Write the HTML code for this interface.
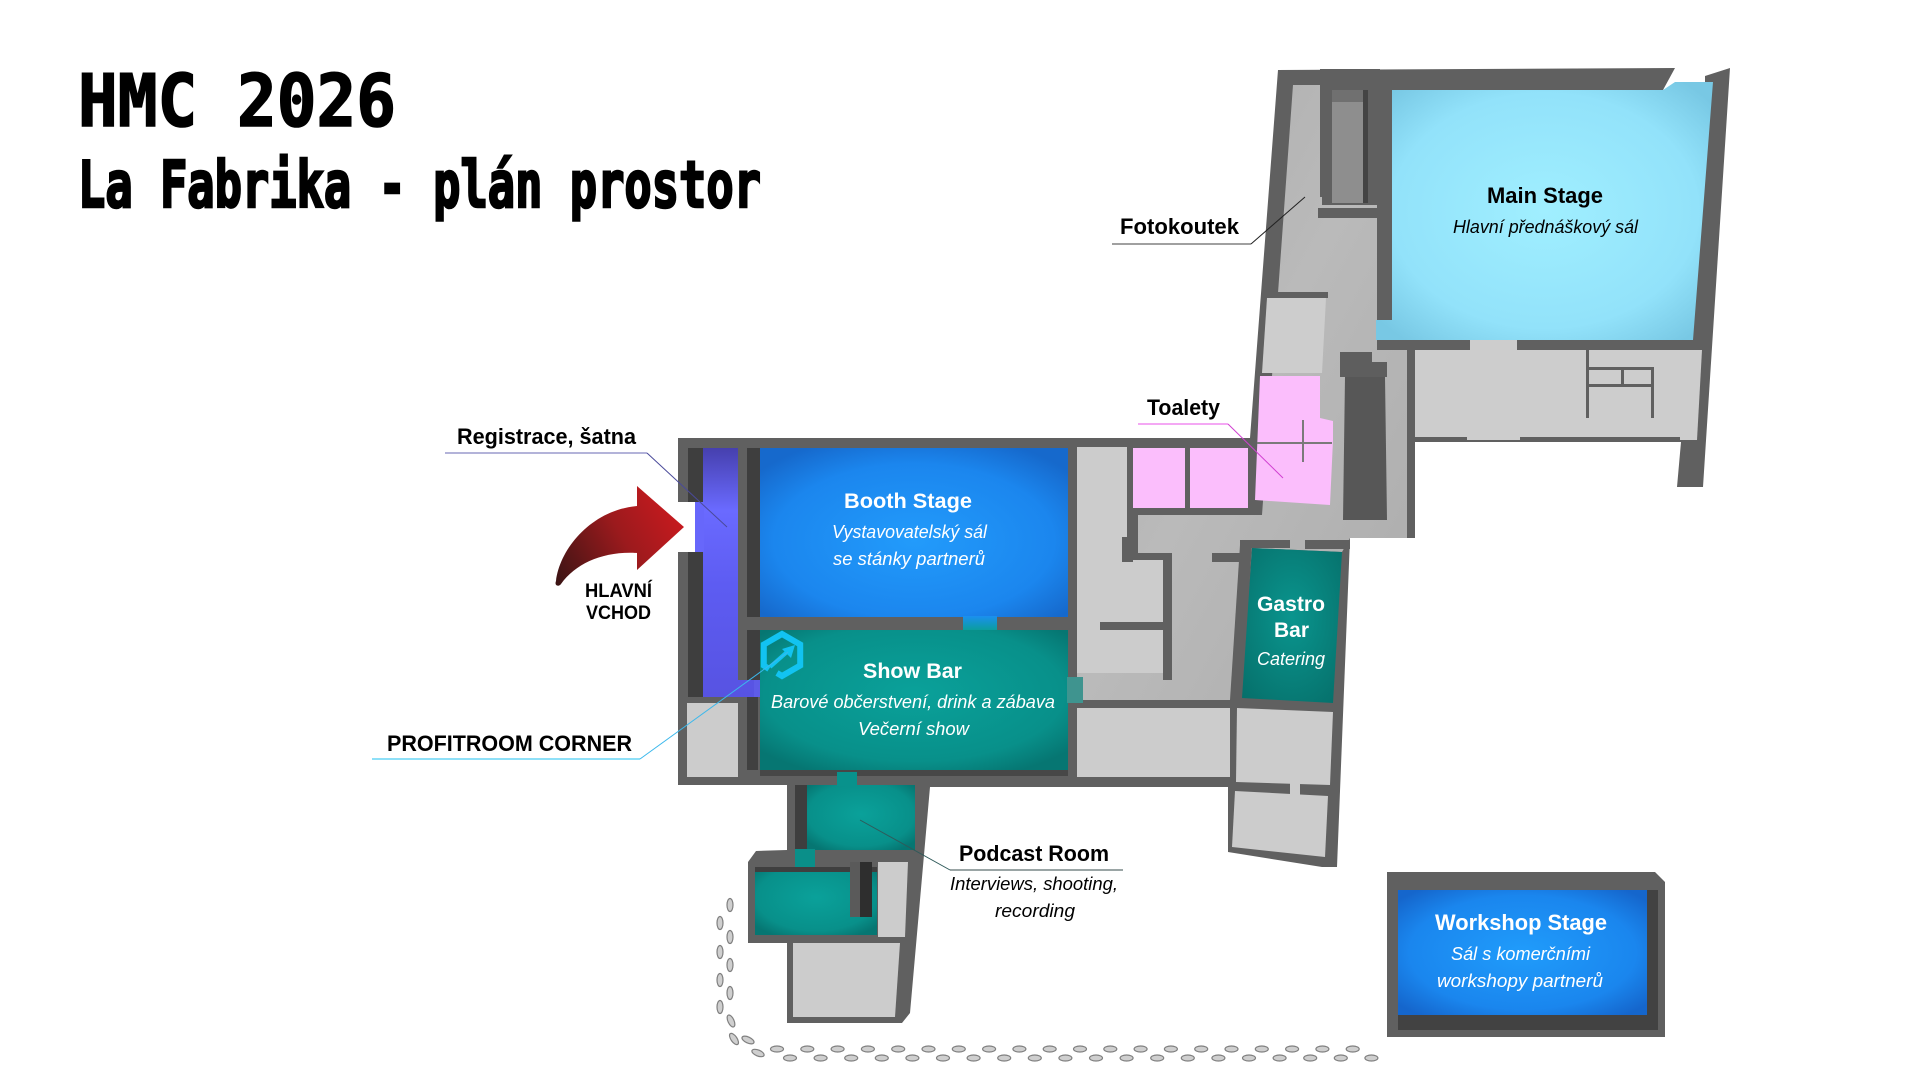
<!DOCTYPE html>
<html><head><meta charset="utf-8">
<style>
html,body{margin:0;padding:0;background:#fff;width:1920px;height:1080px;overflow:hidden}
svg{display:block}
.t{font-family:"Liberation Sans",Arial,sans-serif}
.b{font-weight:bold}
.i{font-style:italic}
.m{font-family:"DejaVu Sans Mono","Liberation Mono",monospace;font-weight:bold}
</style></head><body>
<svg width="1920" height="1080" viewBox="0 0 1920 1080" xmlns="http://www.w3.org/2000/svg">
<defs>
  <radialGradient id="gBooth" cx="50%" cy="55%" r="65%">
    <stop offset="0" stop-color="#229bfb"/><stop offset="0.7" stop-color="#1b86ee"/><stop offset="1" stop-color="#1669cc"/>
  </radialGradient>
  <radialGradient id="gTeal" cx="50%" cy="45%" r="65%">
    <stop offset="0" stop-color="#0aa19a"/><stop offset="0.75" stop-color="#08908a"/><stop offset="1" stop-color="#067672"/>
  </radialGradient>
  <radialGradient id="gGastro" cx="50%" cy="45%" r="70%">
    <stop offset="0" stop-color="#0a958e"/><stop offset="1" stop-color="#06706b"/>
  </radialGradient>
  <radialGradient id="gMain" cx="50%" cy="50%" r="65%">
    <stop offset="0" stop-color="#a0efff"/><stop offset="0.7" stop-color="#92e2fa"/><stop offset="1" stop-color="#78c8e4"/>
  </radialGradient>
  <radialGradient id="gWork" cx="50%" cy="50%" r="65%">
    <stop offset="0" stop-color="#209cfb"/><stop offset="0.7" stop-color="#1a86ee"/><stop offset="1" stop-color="#1566cc"/>
  </radialGradient>
  <linearGradient id="gPurple" x1="0" y1="0" x2="0" y2="1">
    <stop offset="0" stop-color="#4640ae"/><stop offset="0.25" stop-color="#6a6aff"/><stop offset="0.55" stop-color="#5d5cf2"/><stop offset="1" stop-color="#5753e2"/>
  </linearGradient>
  <linearGradient id="gFloor" x1="0" y1="0" x2="1" y2="1">
    <stop offset="0" stop-color="#a9a9a9"/><stop offset="0.5" stop-color="#bababa"/><stop offset="1" stop-color="#acacac"/>
  </linearGradient>
  <linearGradient id="gGap" x1="0" y1="0" x2="0" y2="1">
    <stop offset="0" stop-color="#1b8ff0"/><stop offset="1" stop-color="#0a9e97"/>
  </linearGradient>
  <linearGradient id="gArrow" gradientUnits="userSpaceOnUse" x1="556" y1="584" x2="684" y2="510">
    <stop offset="0" stop-color="#3a1414"/><stop offset="0.55" stop-color="#9c1a1d"/><stop offset="1" stop-color="#cc1a1f"/>
  </linearGradient>
</defs>

<!-- TITLE -->
<text class="m" x="78" y="126" font-size="72" textLength="318" lengthAdjust="spacingAndGlyphs" fill="#000" stroke="#000" stroke-width="1.6">HMC 2026</text>
<text class="m" x="78" y="207" font-size="64" textLength="683" lengthAdjust="spacingAndGlyphs" fill="#000" stroke="#000" stroke-width="2.6">La Fabrika - plán prostor</text>

<!-- BASE WALLS -->
<path d="M678,438 L1250,438 L1278,70 L1675,68 L1663,90 L1705,88 L1705,76 L1730,68 L1703,487 L1677,487 L1681,442 L1415,442 L1415,538 L1350,538 L1337,867 L1322,867 L1228,852 L1228,787 L930,787 L910,1013 L902,1023 L787,1023 L787,943 L748,943 L748,862 L756,851 L787,850 L787,785 L678,785 Z" fill="#606060"/>
<rect x="676" y="502" width="19" height="50" fill="#fff"/>

<!-- FLOOR corridors -->
<path d="M1293,85 L1322,85 L1322,205 L1377,205 L1377,345 L1407,345 L1407,538 L1350,538 L1342,552 L1252,548 L1240,700 L1077,700 L1077,673 L1133,673 L1133,515 L1262,515 Z" fill="url(#gFloor)"/>

<!-- LEFT BLOCK -->
<rect x="688" y="448" width="15" height="54" fill="#3e3e3e"/>
<rect x="688" y="552" width="15" height="145" fill="#3e3e3e"/>
<path d="M703,448 L738,448 L738,680 L754,680 L754,697 L703,697 Z" fill="url(#gPurple)"/>
<rect x="695" y="502" width="9" height="50" fill="#6767fb"/>
<rect x="747" y="448" width="13" height="169" fill="#3e3e3e"/>
<rect x="747" y="630" width="13" height="50" fill="#3e3e3e"/>
<rect x="760" y="448" width="308" height="169" fill="url(#gBooth)"/>
<rect x="963" y="616" width="34" height="15" fill="url(#gGap)"/>
<rect x="760" y="630" width="308" height="140" fill="url(#gTeal)"/>
<rect x="754" y="680" width="6" height="17" fill="#5e5ce8"/>
<rect x="1067" y="677" width="16" height="26" fill="#3f948f"/>
<rect x="760" y="770" width="308" height="6" fill="#474747"/>
<rect x="687" y="703" width="51" height="74" fill="#cccccc"/>
<rect x="747" y="697" width="11" height="73" fill="#404040"/>

<!-- PODCAST -->
<rect x="807" y="785" width="108" height="65" fill="url(#gTeal)"/>
<rect x="837" y="772" width="20" height="14" fill="#08928c"/>
<rect x="795" y="785" width="12" height="65" fill="#3e3e3e"/>
<rect x="795" y="849" width="20" height="18" fill="#0a8f89"/>
<rect x="755" y="867" width="122" height="68" fill="url(#gTeal)"/>
<rect x="755" y="867" width="122" height="5" fill="#3f3f3f"/>
<rect x="850" y="862" width="22" height="55" fill="#5a5a5a"/>
<rect x="860" y="862" width="12" height="55" fill="#2e2e2e"/>
<path d="M878,862 L908,862 L905,937 L878,937 Z" fill="#cccccc"/>
<path d="M793,943 L900,943 L895,1017 L793,1017 Z" fill="#cccccc"/>

<!-- MIDDLE -->
<rect x="1133" y="448" width="52" height="60" fill="#fbbefc"/>
<rect x="1190" y="448" width="58" height="60" fill="#fbbefc"/>
<rect x="1133" y="508" width="129" height="7" fill="#606060"/>
<rect x="1133" y="515" width="5" height="38" fill="#606060"/>
<path d="M1077,447 L1127,447 L1127,560 L1163,560 L1163,673 L1077,673 Z" fill="#cccccc"/>
<rect x="1100" y="622" width="63" height="8" fill="#606060"/>
<rect x="1122" y="537" width="11" height="25" fill="#606060"/>
<rect x="1127" y="553" width="45" height="7" fill="#606060"/>
<rect x="1163" y="553" width="9" height="127" fill="#606060"/>
<rect x="1212" y="553" width="31" height="9" fill="#606060"/>
<path d="M1240,545 L1252,545 L1242,700 L1230,700 Z" fill="#606060"/>
<rect x="1240" y="540" width="50" height="8" fill="#606060"/>
<rect x="1305" y="540" width="45" height="9" fill="#606060"/>
<path d="M1252,548 L1342,552 L1333,703 L1242,698 Z" fill="url(#gGastro)"/>
<rect x="1077" y="708" width="153" height="69" fill="#cccccc"/>
<path d="M1237,708 L1333,712 L1330,785 L1236,782 Z" fill="#cccccc"/>
<path d="M1235,791 L1328,796 L1325,857 L1232,847 Z" fill="#cccccc"/>
<rect x="1290" y="783" width="10" height="12" fill="#cccccc"/>

<!-- UPPER BLOCK -->
<rect x="1320" y="69" width="12" height="128" fill="#606060"/>
<rect x="1320" y="69" width="60" height="21" fill="#606060"/>
<rect x="1332" y="90" width="31" height="113" fill="#8e8e8e"/>
<rect x="1332" y="90" width="31" height="12" fill="#707070"/>
<rect x="1363" y="90" width="5" height="113" fill="#444"/>
<rect x="1318" y="208" width="62" height="10" fill="#606060"/>
<rect x="1377" y="80" width="15" height="240" fill="#606060"/>
<path d="M1392,90 L1663,90 L1675,82 L1713,82 L1693,340 L1376,340 L1376,320 L1392,320 Z" fill="url(#gMain)"/>
<path d="M1415,350 L1702,350 L1697,440 L1415,440 Z" fill="#cdcdcd"/>
<rect x="1377" y="340" width="93" height="10" fill="#606060"/>
<rect x="1517" y="340" width="185" height="10" fill="#606060"/>
<rect x="1470" y="340" width="47" height="10" fill="#cdcdcd"/>
<rect x="1415" y="437" width="52" height="5" fill="#606060"/>
<rect x="1520" y="437" width="160" height="5" fill="#606060"/>
<rect x="1586" y="350" width="3" height="68" fill="#606060"/>
<rect x="1586" y="367" width="68" height="3" fill="#606060"/>
<rect x="1586" y="384" width="68" height="3" fill="#606060"/>
<rect x="1621" y="367" width="3" height="18" fill="#606060"/>
<rect x="1651" y="367" width="3" height="51" fill="#606060"/>
<rect x="1263" y="292" width="65" height="6" fill="#606060"/>
<path d="M1267,298 L1326,298 L1322,373 L1262,373 Z" fill="#cdcdcd"/>
<path d="M1260,376 L1320,376 L1320,418 L1333,421 L1333,440 L1330,505 L1255,500 Z" fill="#fbbefc"/>
<rect x="1257" y="442" width="75" height="2" fill="#7a7a7a"/>
<rect x="1302" y="420" width="2" height="42" fill="#7a7a7a"/>
<path d="M1340,352 L1372,352 L1372,362 L1387,362 L1387,377 L1340,377 Z" fill="#5e5e5e"/>
<path d="M1345,377 L1385,377 L1387,520 L1343,520 Z" fill="#575757"/>
<rect x="1407" y="345" width="8" height="168" fill="#606060"/>

<!-- WORKSHOP -->
<path d="M1387,872 L1655,872 L1665,882 L1665,1037 L1387,1037 Z" fill="#606060"/>
<rect x="1398" y="890" width="260" height="140" fill="#424242"/>
<rect x="1398" y="890" width="249" height="125" fill="url(#gWork)"/>

<!-- FOOTPRINTS -->
<g fill="#cfcfcf" stroke="#808080" stroke-width="1.2">
<ellipse cx="730" cy="905" rx="3" ry="6.5"/><ellipse cx="720" cy="923" rx="3" ry="6.5"/>
<ellipse cx="730" cy="937" rx="3" ry="6.5"/><ellipse cx="720" cy="952" rx="3" ry="6.5"/>
<ellipse cx="730" cy="965" rx="3" ry="6.5"/><ellipse cx="720" cy="980" rx="3" ry="6.5"/>
<ellipse cx="730" cy="993" rx="3" ry="6.5"/><ellipse cx="720" cy="1007" rx="3" ry="6.5"/>
<ellipse cx="731" cy="1021" rx="3" ry="6.5" transform="rotate(-25 731 1021)"/>
<ellipse cx="734" cy="1039" rx="3" ry="6.5" transform="rotate(-35 734 1039)"/>
<ellipse cx="748" cy="1040" rx="6.5" ry="3" transform="rotate(25 748 1040)"/>
<ellipse cx="758" cy="1053" rx="6.5" ry="3" transform="rotate(22 758 1053)"/>
<ellipse cx="777" cy="1049" rx="6.5" ry="3"/><ellipse cx="807.3" cy="1049" rx="6.5" ry="3"/>
<ellipse cx="837.6" cy="1049" rx="6.5" ry="3"/><ellipse cx="867.9" cy="1049" rx="6.5" ry="3"/>
<ellipse cx="898.2" cy="1049" rx="6.5" ry="3"/><ellipse cx="928.5" cy="1049" rx="6.5" ry="3"/>
<ellipse cx="958.8" cy="1049" rx="6.5" ry="3"/><ellipse cx="989.1" cy="1049" rx="6.5" ry="3"/>
<ellipse cx="1019.4" cy="1049" rx="6.5" ry="3"/><ellipse cx="1049.7" cy="1049" rx="6.5" ry="3"/>
<ellipse cx="1080" cy="1049" rx="6.5" ry="3"/><ellipse cx="1110.3" cy="1049" rx="6.5" ry="3"/>
<ellipse cx="1140.6" cy="1049" rx="6.5" ry="3"/><ellipse cx="1170.9" cy="1049" rx="6.5" ry="3"/>
<ellipse cx="1201.2" cy="1049" rx="6.5" ry="3"/><ellipse cx="1231.5" cy="1049" rx="6.5" ry="3"/>
<ellipse cx="1261.8" cy="1049" rx="6.5" ry="3"/><ellipse cx="1292.1" cy="1049" rx="6.5" ry="3"/>
<ellipse cx="1322.4" cy="1049" rx="6.5" ry="3"/><ellipse cx="1352.7" cy="1049" rx="6.5" ry="3"/>
<ellipse cx="790" cy="1058" rx="6.5" ry="3"/><ellipse cx="820.6" cy="1058" rx="6.5" ry="3"/>
<ellipse cx="851.2" cy="1058" rx="6.5" ry="3"/><ellipse cx="881.8" cy="1058" rx="6.5" ry="3"/>
<ellipse cx="912.4" cy="1058" rx="6.5" ry="3"/><ellipse cx="943" cy="1058" rx="6.5" ry="3"/>
<ellipse cx="973.6" cy="1058" rx="6.5" ry="3"/><ellipse cx="1004.2" cy="1058" rx="6.5" ry="3"/>
<ellipse cx="1034.8" cy="1058" rx="6.5" ry="3"/><ellipse cx="1065.4" cy="1058" rx="6.5" ry="3"/>
<ellipse cx="1096" cy="1058" rx="6.5" ry="3"/><ellipse cx="1126.6" cy="1058" rx="6.5" ry="3"/>
<ellipse cx="1157.2" cy="1058" rx="6.5" ry="3"/><ellipse cx="1187.8" cy="1058" rx="6.5" ry="3"/>
<ellipse cx="1218.4" cy="1058" rx="6.5" ry="3"/><ellipse cx="1249" cy="1058" rx="6.5" ry="3"/>
<ellipse cx="1279.6" cy="1058" rx="6.5" ry="3"/><ellipse cx="1310.2" cy="1058" rx="6.5" ry="3"/>
<ellipse cx="1340.8" cy="1058" rx="6.5" ry="3"/><ellipse cx="1371.4" cy="1058" rx="6.5" ry="3"/>
</g>

<!-- RED ARROW -->
<path d="M556,581 C560,548 592,510 637,506 L637,486 L684,527 L637,570 L637,553 C604,551 576,563 561,584 C559,587 554,586 556,581 Z" fill="url(#gArrow)"/>

<!-- PROFITROOM ICON -->
<path d="M769,669 L763.8,665.5 L763.8,644.5 L782,634 L800.2,644.5 L800.2,665.5 L782,676 L777,673" fill="none" stroke="#12c3f1" stroke-width="6" stroke-linejoin="miter"/>
<line x1="770" y1="667" x2="787" y2="652" stroke="#12c3f1" stroke-width="4"/>
<polygon points="795,645 782,649 791,658" fill="#12c3f1"/>

<!-- LEADER LINES -->
<line x1="445" y1="453" x2="647" y2="453" stroke="#b3b3d9" stroke-width="2"/>
<line x1="647" y1="453" x2="727" y2="527" stroke="#4a4a9a" stroke-width="1"/>
<line x1="1112" y1="244" x2="1251" y2="244" stroke="#a0a0a0" stroke-width="2"/>
<line x1="1251" y1="244" x2="1305" y2="197" stroke="#222" stroke-width="1"/>
<line x1="1138" y1="424" x2="1228" y2="424" stroke="#f08cf0" stroke-width="1.5"/>
<line x1="1228" y1="424" x2="1283" y2="478" stroke="#d040d0" stroke-width="1"/>
<line x1="372" y1="759" x2="640" y2="759" stroke="#8ee0f8" stroke-width="2"/>
<line x1="640" y1="759" x2="788" y2="652" stroke="#3bb8ec" stroke-width="1"/>
<line x1="950" y1="870" x2="1123" y2="870" stroke="#9aa5a5" stroke-width="2"/>
<line x1="950" y1="870" x2="860" y2="820" stroke="#2f5a5a" stroke-width="1"/>

<!-- LABELS -->
<g class="t" fill="#000">
<text class="b" x="457" y="444" font-size="22" textLength="179" lengthAdjust="spacingAndGlyphs">Registrace, šatna</text>
<text class="b" x="1120" y="234" font-size="22" textLength="119" lengthAdjust="spacingAndGlyphs">Fotokoutek</text>
<text class="b" x="1147" y="415" font-size="22" textLength="73" lengthAdjust="spacingAndGlyphs">Toalety</text>
<text class="b" x="387" y="751" font-size="22" textLength="245" lengthAdjust="spacingAndGlyphs">PROFITROOM CORNER</text>
<text class="b" x="585" y="597" font-size="19" textLength="67" lengthAdjust="spacingAndGlyphs">HLAVNÍ</text>
<text class="b" x="586" y="619" font-size="19" textLength="65" lengthAdjust="spacingAndGlyphs">VCHOD</text>
<text class="b" x="959" y="861" font-size="22" textLength="150" lengthAdjust="spacingAndGlyphs">Podcast Room</text>
<text class="i" x="950" y="890" font-size="18" textLength="168" lengthAdjust="spacingAndGlyphs">Interviews, shooting,</text>
<text class="i" x="995" y="917" font-size="18" textLength="80" lengthAdjust="spacingAndGlyphs">recording</text>
<text class="b" x="1487" y="203" font-size="22" textLength="116" lengthAdjust="spacingAndGlyphs">Main Stage</text>
<text class="i" x="1453" y="233" font-size="18" textLength="185" lengthAdjust="spacingAndGlyphs">Hlavní přednáškový sál</text>
</g>
<g class="t" fill="#fff">
<text class="b" x="844" y="508" font-size="21" textLength="128" lengthAdjust="spacingAndGlyphs">Booth Stage</text>
<text class="i" x="832" y="538" font-size="18" textLength="155" lengthAdjust="spacingAndGlyphs">Vystavovatelský sál</text>
<text class="i" x="833" y="565" font-size="18" textLength="152" lengthAdjust="spacingAndGlyphs">se stánky partnerů</text>
<text class="b" x="863" y="678" font-size="21" textLength="99" lengthAdjust="spacingAndGlyphs">Show Bar</text>
<text class="i" x="771" y="708" font-size="18" textLength="284" lengthAdjust="spacingAndGlyphs">Barové občerstvení, drink a zábava</text>
<text class="i" x="858" y="735" font-size="18" textLength="111" lengthAdjust="spacingAndGlyphs">Večerní show</text>
<text class="b" x="1257" y="611" font-size="21" textLength="68" lengthAdjust="spacingAndGlyphs">Gastro</text>
<text class="b" x="1274" y="637" font-size="21" textLength="35" lengthAdjust="spacingAndGlyphs">Bar</text>
<text class="i" x="1257" y="665" font-size="18" textLength="68" lengthAdjust="spacingAndGlyphs">Catering</text>
<text class="b" x="1435" y="930" font-size="22" textLength="172" lengthAdjust="spacingAndGlyphs">Workshop Stage</text>
<text class="i" x="1451" y="960" font-size="18" textLength="139" lengthAdjust="spacingAndGlyphs">Sál s komerčními</text>
<text class="i" x="1437" y="987" font-size="18" textLength="166" lengthAdjust="spacingAndGlyphs">workshopy partnerů</text>
</g>
</svg>
</body></html>
